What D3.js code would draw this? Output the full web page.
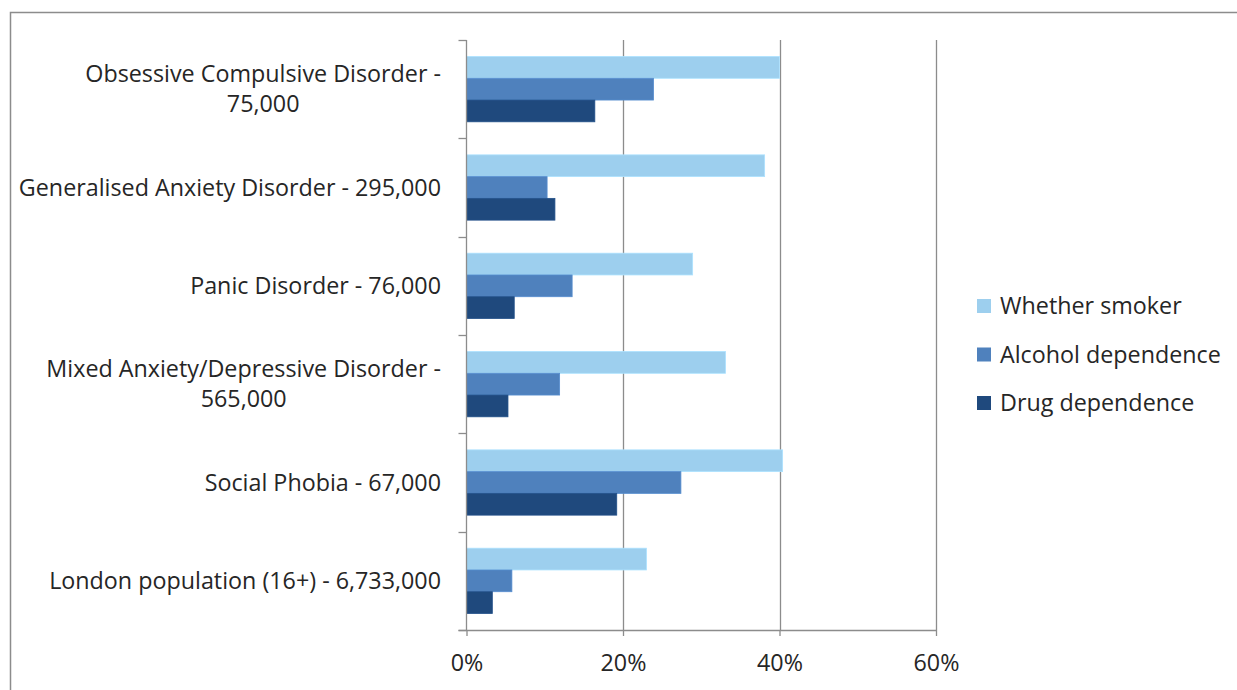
<!DOCTYPE html>
<html>
<head>
<meta charset="utf-8">
<script src="https://cdn.jsdelivr.net/npm/d3@7"></script>
<style>
  html, body { margin: 0; padding: 0; background: #fff; }
  svg text { font-family: "Open Sans", sans-serif; fill: #262626; }
</style>
</head>
<body>
<script>
'use strict';

// categories, top to bottom (each entry is a list of label lines)
const categories = [
  ["Obsessive Compulsive Disorder -", "75,000"],
  ["Generalised Anxiety Disorder - 295,000"],
  ["Panic Disorder - 76,000"],
  ["Mixed Anxiety/Depressive Disorder -", "565,000"],
  ["Social Phobia - 67,000"],
  ["London population (16+) - 6,733,000"]
];
const seriesNames = ["Whether smoker", "Alcohol dependence", "Drug dependence"];
const smoker  = [40.0, 38.1, 28.9, 33.1, 40.4, 23.0];
const alcohol = [23.9, 10.3, 13.5, 11.9, 27.4, 5.8];
const drug    = [16.4, 11.3, 6.1, 5.3, 19.2, 3.3];
const xTicks  = [0, 20, 40, 60];
const colors  = ["#9dcfee", "#4f81bd", "#1f497d"];

const width = 1237, height = 690;
const fontSize = '23.3px';
const svg = d3.select('body').append('svg')
  .attr('width', width).attr('height', height);

// outer chart frame (only left and top edges are visible)
svg.append('rect')
  .attr('x', 10.5).attr('y', 12.5)
  .attr('width', width + 20).attr('height', height + 20)
  .attr('fill', 'none').attr('stroke', '#8c8c8c').attr('stroke-width', 1.5);

const plot = { left: 466.5, right: 936, top: 40, bottom: 630 };

const x = d3.scaleLinear().domain([0, 60]).range([plot.left, plot.right]);
const y = d3.scaleBand().domain(d3.range(categories.length))
  .range([plot.top, plot.bottom]);
const inner = d3.scaleBand().domain(d3.range(3))
  .range([0, y.bandwidth()]).paddingOuter(0.76);

// vertical gridlines
svg.append('g').selectAll('line')
  .data(xTicks.slice(1))
  .enter().append('line')
    .attr('x1', d => Math.round(x(d)) + 0.5).attr('x2', d => Math.round(x(d)) + 0.5)
    .attr('y1', plot.top).attr('y2', plot.bottom)
    .attr('stroke', '#8c8c8c').attr('stroke-width', 1.3);

// bars
const series = [smoker, alcohol, drug];
series.forEach((vals, s) => {
  svg.append('g').selectAll('rect')
    .data(vals)
    .enter().append('rect')
      .attr('x', x(0))
      .attr('y', (d, i) => y(i) + inner(s))
      .attr('width', d => x(d) - x(0))
      .attr('height', inner.bandwidth())
      .attr('fill', colors[s])
      .attr('stroke', d3.color(colors[s]).brighter(0.25))
      .attr('stroke-width', 0.8);
});

// x axis
const xAxis = d3.axisBottom(x).tickValues(xTicks)
  .tickFormat(d => d + '%').tickSize(6).tickPadding(18);
const gx = svg.append('g')
  .attr('transform', `translate(0,${plot.bottom})`)
  .call(xAxis);
gx.select('.domain').remove();
gx.append('line')
  .attr('x1', plot.left - 8).attr('x2', plot.right)
  .attr('y1', 0.5).attr('y2', 0.5)
  .attr('stroke', '#8c8c8c').attr('stroke-width', 1.3);
gx.selectAll('.tick line').attr('stroke', '#8c8c8c').attr('stroke-width', 1.3);
gx.selectAll('.tick text')
  .style('font-size', fontSize).style('font-family', '"Open Sans", sans-serif')
  .attr('fill', '#262626');

// y axis line with ticks at category boundaries
const gy = svg.append('g');
gy.append('line')
  .attr('x1', plot.left).attr('x2', plot.left)
  .attr('y1', plot.top).attr('y2', plot.bottom)
  .attr('stroke', '#8c8c8c').attr('stroke-width', 1.3);
gy.selectAll('.ytick')
  .data(d3.range(categories.length + 1))
  .enter().append('line')
    .attr('x1', plot.left - 8).attr('x2', plot.left)
    .attr('y1', d => Math.round(plot.top + d * y.step()) + 0.5)
    .attr('y2', d => Math.round(plot.top + d * y.step()) + 0.5)
    .attr('stroke', '#8c8c8c').attr('stroke-width', 1.3);

// category labels: block right-aligned, lines centred on each other
const labelRight = 441, lineH = 30;
categories.forEach((lines, i) => {
  const cy = y(i) + y.bandwidth() / 2;
  const t = svg.append('text')
    .style('font-size', fontSize)
    .attr('text-anchor', 'middle');
  lines.forEach((ln, j) => {
    t.append('tspan')
      .attr('y', cy + (j - (lines.length - 1) / 2) * lineH)
      .attr('dy', '0.35em')
      .text(ln);
  });
  const w = d3.max(t.selectAll('tspan').nodes(), n => n.getComputedTextLength());
  t.selectAll('tspan').attr('x', labelRight - w / 2);
});

// legend
const legend = svg.append('g').attr('transform', 'translate(977,306)');
seriesNames.forEach((name, i) => {
  const g = legend.append('g').attr('transform', `translate(0,${i * 48.5})`);
  g.append('rect').attr('x', 0).attr('y', -7).attr('width', 14).attr('height', 14)
    .attr('fill', colors[i]);
  g.append('text').attr('x', 23).attr('dy', '0.35em')
    .style('font-size', fontSize).text(name);
});
</script>
</body>
</html>
